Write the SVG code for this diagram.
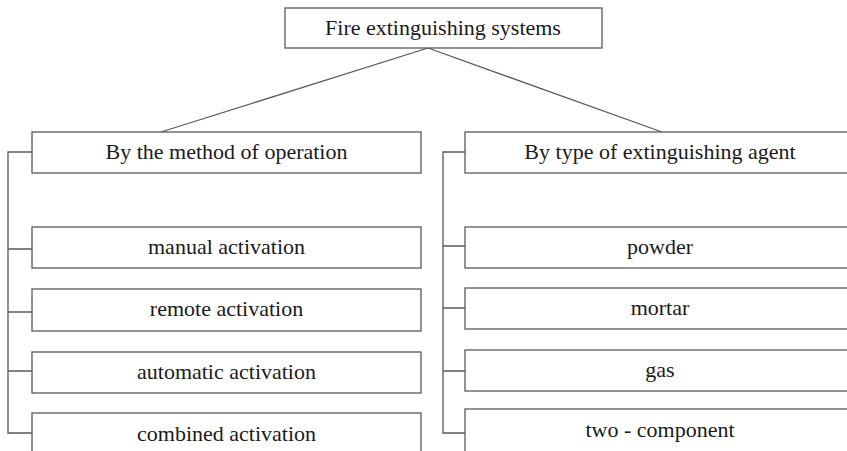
<svg xmlns="http://www.w3.org/2000/svg" width="847" height="451" viewBox="0 0 847 451">
<style>
.box{fill:#fff;stroke:#5a5a5a;stroke-width:1.3}
.lbl{font-family:"Liberation Serif","Times New Roman","DejaVu Serif",serif;font-size:22px;fill:#1a1a1a;text-anchor:middle}
.con{fill:none;stroke:#5a5a5a;stroke-width:1.3}
</style>
<rect width="847" height="451" fill="#fff"/>
<g id="connectors">
<path class="con" d="M428,48 L161,132"/>
<path class="con" d="M428,48 L662,132"/>
<path class="con" d="M32,152 H8 V433 H32 M8,249 H32 M8,312 H32 M8,371 H32"/>
<path class="con" d="M465,152 H443 V433 H465 M443,246 H465 M443,308 H465 M443,371 H465"/>
</g>
<g id="root"><rect class="box" x="285" y="8" width="317" height="40"/><text class="lbl" x="443" y="34.5">Fire extinguishing systems</text></g>
<g id="method"><rect class="box" x="32" y="132" width="389" height="41"/><text class="lbl" x="226.5" y="159.3">By the method of operation</text></g>
<g id="agent"><rect class="box" x="465" y="132" width="392" height="41"/><text class="lbl" x="660" y="159.3">By type of extinguishing agent</text></g>
<g id="manual"><rect class="box" x="32" y="227" width="389" height="41"/><text class="lbl" x="226.5" y="253.5">manual activation</text></g>
<g id="remote"><rect class="box" x="32" y="289" width="389" height="42"/><text class="lbl" x="226.5" y="316">remote activation</text></g>
<g id="automatic"><rect class="box" x="32" y="352" width="389" height="41"/><text class="lbl" x="226.5" y="378.5">automatic activation</text></g>
<g id="combined"><rect class="box" x="32" y="413" width="389" height="50"/><text class="lbl" x="226.5" y="440.5">combined activation</text></g>
<g id="powder"><rect class="box" x="465" y="227" width="392" height="41"/><text class="lbl" x="660" y="253.5">powder</text></g>
<g id="mortar"><rect class="box" x="465" y="288" width="392" height="41"/><text class="lbl" x="660" y="314.5">mortar</text></g>
<g id="gas"><rect class="box" x="465" y="350" width="392" height="41"/><text class="lbl" x="660" y="376.5">gas</text></g>
<g id="twocomp"><rect class="box" x="465" y="409" width="392" height="50"/><text class="lbl" x="660" y="436.5">two - component</text></g>
</svg>
